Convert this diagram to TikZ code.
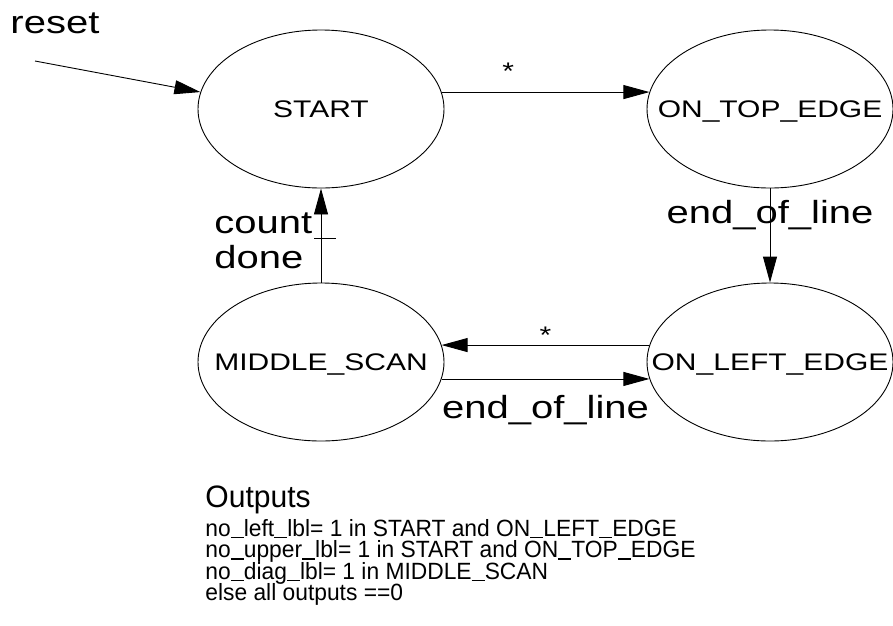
\documentclass[tikz,border=0pt]{standalone}
\usepackage{fontspec}
\setmainfont{Liberation Sans}
\newfontfamily\widefont{Liberation Sans}[FakeStretch=1.25]
\newfontfamily\narrowfont{Liberation Sans}[FakeStretch=0.97]
\usetikzlibrary{shapes.geometric,arrows.meta}
\newcommand{\uscore}{\rule[-2pt]{0.556em}{1.1pt}}

\begin{document}
\begin{tikzpicture}[x=1pt,y=-1pt,line width=0.9pt,
  state/.style={draw,ellipse,minimum width=246pt,minimum height=158pt,inner sep=0pt,
    text depth=0pt,font=\widefont\fontsize{24}{28}\selectfont},
  lbl/.style={inner sep=0pt,font=\widefont\fontsize{32}{35}\selectfont},
  small/.style={inner sep=0pt,font=\widefont\fontsize{24}{28}\selectfont},
  outl/.style={inner sep=0pt,anchor=base west,font=\narrowfont\fontsize{23.5}{21}\selectfont},
  >={Triangle[length=26pt,width=14pt]}]
\useasboundingbox (0,0) rectangle (893,625);
\node[state] (start) at (321,109) {\makebox[0pt]{START}};
\node[state] (top) at (770,109) {\makebox[0pt]{ON\_TOP\_EDGE}};
\node[state] (mid) at (321,362) {\makebox[0pt]{MIDDLE\_SCAN}};
\node[state] (left) at (770,362) {\makebox[0pt]{ON\_LEFT\_EDGE}};
\node[lbl,anchor=base west] (reset) at (10,33) {reset};
\coordinate (rst) at (35,61);
\draw[->] (rst) -- (start.172);
\draw[->] (start.8) -- node[small,pos=0.32,anchor=base,yshift=13pt] (s1) {*} (top.172);
\draw[->] (top.south) -- node[lbl,pos=0.37,anchor=base] (e1) {end\_of\_line} (left.north);
\draw[->] (left.172) -- node[small,pos=0.5,anchor=base,yshift=2pt] (s2) {*} (mid.8);
\draw[->] (mid.-8) -- node[lbl,pos=0.5,anchor=base,yshift=-40pt] (e2) {end\_of\_line} (left.188);
\draw[->] (mid.north) -- coordinate[pos=0.47] (tick) (start.south);
\draw ([xshift=-7pt]tick) -- ([xshift=15pt]tick);
\node[lbl,anchor=base west] (count) at (214,233) {count};
\node[lbl,anchor=base west,yshift=-35pt] (done) at (count.base west) {done};
% outputs
\node[inner sep=0pt,anchor=base west,font=\narrowfont\fontsize{31}{35}\selectfont] (outs) at (205,507) {Outputs};
\node[outl] (o1) at (205,536) {no\uscore left\uscore lbl= 1 in START and ON\uscore LEFT\uscore EDGE};
\node[outl,yshift=-21.5pt] (o2) at (o1.base west) {no\uscore upper\uscore lbl= 1 in START and ON\uscore TOP\uscore EDGE};
\node[outl,yshift=-21.5pt] (o3) at (o2.base west) {no\uscore diag\uscore lbl= 1 in MIDDLE\uscore SCAN};
\node[outl,yshift=-21.5pt] (o4) at (o3.base west) {else all outputs ==0};
\end{tikzpicture}
\end{document}
